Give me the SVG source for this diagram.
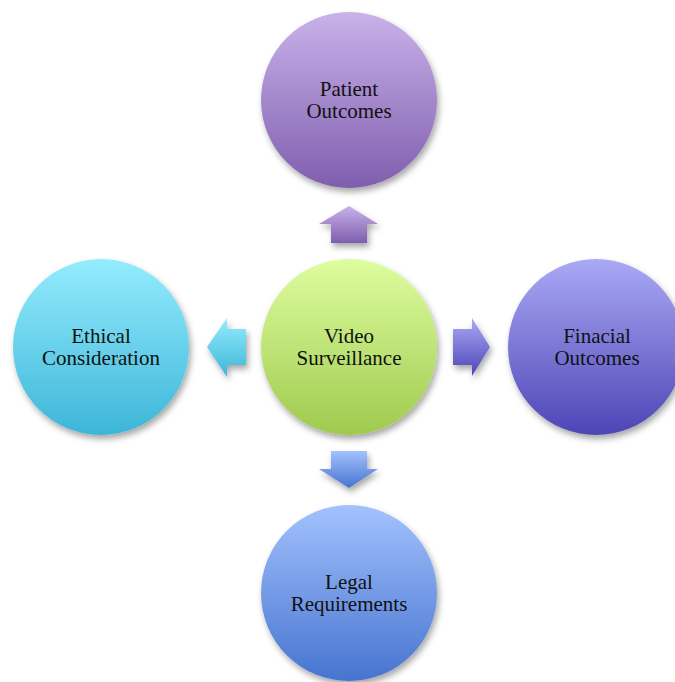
<svg xmlns="http://www.w3.org/2000/svg" width="675" height="682" viewBox="0 0 675 682">
<style>
text{font-family:"Liberation Serif","Times New Roman",serif;font-size:21px;fill:#111;text-anchor:middle}
</style>
<defs>
<filter id="sh" x="-20%" y="-20%" width="150%" height="150%">
<feDropShadow dx="2" dy="4" stdDeviation="3" flood-color="#000" flood-opacity="0.35"/>
</filter>
<linearGradient id="gP" x1="0" y1="0" x2="0" y2="1"><stop offset="0" stop-color="#c9b2ea"/><stop offset="1" stop-color="#7f5eae"/></linearGradient>
<linearGradient id="gG" x1="0" y1="0" x2="0" y2="1"><stop offset="0" stop-color="#defd9f"/><stop offset="1" stop-color="#9fca4f"/></linearGradient>
<linearGradient id="gC" x1="0" y1="0" x2="0" y2="1"><stop offset="0" stop-color="#94ecfe"/><stop offset="1" stop-color="#3db6d8"/></linearGradient>
<linearGradient id="gV" x1="0" y1="0" x2="0" y2="1"><stop offset="0" stop-color="#aaa9f5"/><stop offset="1" stop-color="#4d45b6"/></linearGradient>
<linearGradient id="gB" x1="0" y1="0" x2="0" y2="1"><stop offset="0" stop-color="#a3c2fe"/><stop offset="1" stop-color="#4674cf"/></linearGradient>
</defs>
<g id="connectors" filter="url(#sh)">
<polygon points="349,206 378,224 367,224 367,243 331,243 331,224 319,224" fill="url(#gP)"/>
<polygon points="453,329 472,329 472,318 490,347 472,376 472,365 453,365" fill="url(#gV)"/>
<polygon points="331,451 367,451 367,469 378,469 349,488 319,469 331,469" fill="url(#gB)"/>
<polygon points="246,329 227,329 227,318 207,347 227,377 227,365 246,365" fill="url(#gC)"/>
</g>
<g id="patient"><circle cx="349" cy="100" r="88" fill="url(#gP)" filter="url(#sh)"/><text x="349" y="96">Patient</text><text x="349" y="118">Outcomes</text></g>
<g id="video"><circle cx="349" cy="347" r="88" fill="url(#gG)" filter="url(#sh)"/><text x="349" y="343">Video</text><text x="349" y="365">Surveillance</text></g>
<g id="ethical"><circle cx="101" cy="347" r="88" fill="url(#gC)" filter="url(#sh)"/><text x="101" y="343">Ethical</text><text x="101" y="365">Consideration</text></g>
<g id="financial"><circle cx="596" cy="347" r="88" fill="url(#gV)" filter="url(#sh)"/><text x="597" y="343">Finacial</text><text x="597" y="365">Outcomes</text></g>
<g id="legal"><circle cx="349" cy="593" r="88" fill="url(#gB)" filter="url(#sh)"/><text x="349" y="589">Legal</text><text x="349" y="611">Requirements</text></g>
</svg>
